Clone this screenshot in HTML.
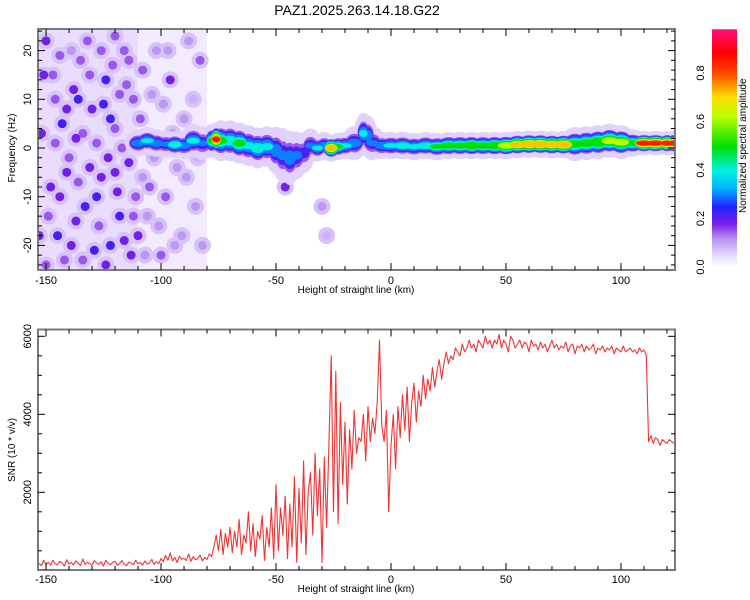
<!DOCTYPE html>
<html><head><meta charset="utf-8">
<style>
body{margin:0;background:#fff;}
svg{display:block;font-family:"Liberation Sans",sans-serif;}
</style></head>
<body>
<svg id="chart" width="750" height="600" viewBox="0 0 750 600">
<text x="357" y="15" font-size="14" text-anchor="middle">PAZ1.2025.263.14.18.G22</text>
<g id="topg"></g>
<g id="bot"></g>
<g id="cbar"></g>
</svg>
<script>
// ---------- data ----------
const snrStart = -153;
const snrStep = 1;
const snrValues = [
180,120,250,150,210,130,260,170,140,230,190,110,270,160,200,140,240,180,120,290,150,210,170,130,250,190,150,220,110,260,180,140,200,230,130,170,250,150,120,210,190,140,260,170,200,130,240,160,190,280,150,220,170,
300,220,380,260,450,240,330,200,360,280,310,250,420,230,350,270,300,390,240,330,280,420,
350,600,900,500,1050,400,950,600,
1100,450,1000,600,1300,400,900,700,1500,500,1200,350,1000,800,1400,250,1100,600,1600,300,
2200,500,1600,900,1900,300,1700,600,2400,200,2100,700,2800,400,2000,
2500,900,3000,1400,2600,200,2900,1100,3200,5500,
1500,5100,1200,4300,2200,3800,1700,3600,2600,4100,
3000,3400,3300,4000,2800,4200,3300,3900,3500,4300,
5900,3700,3300,4100,1500,3200,4000,2600,4200,3400,
4500,3600,4700,3300,4300,4800,3800,4600,4200,5000,
4400,4900,4600,5200,4700,5100,5400,4900,5300,5600,
5300,5500,5400,5700,5600,5500,5800,5600,5700,5900,
5700,5800,5600,5900,5800,5700,6000,5800,5900,5700,
5900,5800,6050,5700,5900,5800,5600,6000,5900,5700,
5800,5900,5700,5850,5800,5600,5900,5750,5800,5650,
5850,5700,5800,5600,5750,5900,5700,5800,5650,5750,
5700,5850,5600,5750,5800,5550,5750,5700,5800,5600,
5750,5650,5700,5800,5550,5700,5650,5750,5600,5700,
5650,5750,5550,5700,5650,5600,5750,5600,5650,5700,
5600,5650,5550,5700,5600,5650,5500,
3300,3450,3250,3400,3350,3200,3350,3300,3250,3350,3300,3250];

const ridgeX = [-110,-106,-102,-98,-94,-90,-86,-82,-78,-76,-74,-70,-66,-62,-58,-54,-50,-47,-44,-41,-38,-35,-32,-29,-26,-23,-20,-16,-12,-10,-8,-4,0,5,10,15,20,25,30,35,40,45,50,55,60,65,70,75,80,85,90,95,100,105,110,115,120,123];
const ridgeF = [1,1.5,1,0.8,0.7,0.5,1.5,1,1.5,1.8,1.5,1.5,1,0.5,0,0.3,-0.5,-1.5,-2,-1.5,-1,0.5,0,0.5,0,0.3,0.5,1,3,2.5,1,0.5,0.5,0.5,0.3,0.5,0.3,0.5,0.5,0.5,0.5,0.5,0.5,0.7,0.8,0.8,0.7,0.7,0.8,1,1.2,1.5,1.2,1,1,1,1,1];
const ridgeA = [0.35,0.4,0.35,0.3,0.45,0.35,0.4,0.3,0.5,0.85,0.5,0.45,0.5,0.4,0.45,0.4,0.35,0.3,0.35,0.3,0.25,0.3,0.4,0.35,0.8,0.5,0.4,0.35,0.4,0.35,0.3,0.35,0.4,0.45,0.4,0.45,0.5,0.55,0.55,0.6,0.55,0.6,0.7,0.75,0.8,0.8,0.75,0.8,0.55,0.55,0.6,0.65,0.65,0.55,0.9,0.9,0.9,0.9];
const ridgeW = [2,2,2,2,2,2,2.5,2.5,2.5,2.5,3,3,3,3,3,3,3.5,4,4,3.5,3,2.5,2,2,2,2,2,2.5,3,3,2.5,2,2,2,2,2,2,2,2,2,2,2,2,2,2,2,2,2,2.5,2.5,2.5,2.5,2.5,2,1.8,1.8,1.8,1.8];

const blobX = [-150,-147,-143,-140,-138,-135,-133,-130,-128,-126,-124,-122,-120,-118,-116,-114,-112,-110,-108,-105,-100,-96,-93,-90,-85,-83,-148,-145,-142,-137,-132,-129,-125,-121,-119,-117,-113,-109,-106,-102,-98,-95,-150,-152,-146,-141,-139,-134,-127,-123,-115,-111,-107,-103,-99,-91,-88,-82,-45,-42,-30,-28,-46,
-151,-149,-144,-144,-141,-136,-136,-131,-131,-128,-126,-124,-122,-120,-118,-116,-114,-112,-110,-108,-104,-101,-97,-94,-89,-86,-84,-153,-139,-134,-120,-137,-146];
const blobF = [22,15,5,-2,12,18,-12,8,1,-6,14,-20,4,-14,20,-3,10,-18,16,-8,-22,14,-4,6,-12,18,-8,-18,-23,-15,22,-21,9,17,-9,0,-22,6,-14,20,-10,3,-24,3,10,-5,20,3,-16,-2,13,-10,-22,-2,9,-18,22,-20,-6,-4,-12,-18,-8,
15,-14,-10,19,8,-7,10,-4,15,-10,20,-24,6,-5,11,-19,18,-14,0,-6,11,-16,20,-20,-6,10,-2,-18,-20,-23,23,2,1];
const blobA = [0.25,0.2,0.3,0.2,0.25,0.2,0.3,0.25,0.2,0.25,0.3,0.3,0.2,0.3,0.2,0.25,0.2,0.25,0.2,0.2,0.2,0.25,0.15,0.15,0.15,0.2,0.25,0.3,0.2,0.25,0.2,0.3,0.3,0.2,0.25,0.2,0.25,0.2,0.15,0.15,0.2,0.15,0.2,0.25,0.2,0.25,0.15,0.2,0.2,0.25,0.2,0.2,0.15,0.15,0.15,0.15,0.15,0.15,0.3,0.25,0.15,0.12,0.25,
0.25,0.2,0.25,0.2,0.25,0.2,0.3,0.25,0.2,0.3,0.2,0.25,0.3,0.25,0.2,0.25,0.2,0.2,0.2,0.15,0.15,0.15,0.15,0.15,0.15,0.12,0.12,0.25,0.25,0.2,0.2,0.25,0.2];

const xTicks = [-150,-100,-50,0,50,100];
const fTicks = [-20,-10,0,10,20];
const snrTicks = [2000,4000,6000];
const cbTicks = [0.0,0.2,0.4,0.6,0.8];

// ---------- geometry ----------
const NS='http://www.w3.org/2000/svg';
const L=38,R=675;
const xMin=-153.5,xMax=123.5;
const X=v=>L+(v-xMin)/(xMax-xMin)*(R-L);
const T0=29,T1=270;
const F=v=>148-v*4.87;
const B0=329.5,B1=570;
const Y=v=>570.3-v*0.039;

function mk(tag,attrs,parent){const e=document.createElementNS(NS,tag);for(const k in attrs)e.setAttribute(k,attrs[k]);parent.appendChild(e);return e;}

const stops=[[0,'#ffffff'],[0.05,'#e8dcff'],[0.12,'#b890f2'],[0.18,'#7a20e8'],[0.25,'#2222ff'],[0.33,'#00b8ff'],[0.4,'#00f0e0'],[0.5,'#00e000'],[0.62,'#b8ff00'],[0.7,'#ffe000'],[0.8,'#ff4800'],[0.88,'#ff0000'],[1,'#ff1090']];
function hex(h){return [parseInt(h.slice(1,3),16),parseInt(h.slice(3,5),16),parseInt(h.slice(5,7),16)];}
function cmap(v){v=Math.max(0,Math.min(1,v));for(let i=1;i<stops.length;i++){if(v<=stops[i][0]){const a=stops[i-1],b=stops[i];const t=(v-a[0])/(b[0]-a[0]);const c1=hex(a[1]),c2=hex(b[1]);return 'rgb('+c1.map((c,j)=>Math.round(c+(c2[j]-c)*t)).join(',')+')';}}return stops[stops.length-1][1];}

// ---------- top panel ----------
const topPanel=document.getElementById('topg');
const defs=mk('defs',{},topPanel);
const cp=mk('clipPath',{id:'clipT'},defs);mk('rect',{x:L,y:T0,width:R-L,height:T1-T0},cp);
const heat=mk('g',{'clip-path':'url(#clipT)'},topPanel);


mk('rect',{x:X(-153.5),y:T0,width:X(-110)-X(-153.5),height:T1-T0,fill:'#e9dcfc'},heat);
mk('rect',{x:X(-110),y:T0,width:X(-80)-X(-110),height:T1-T0,fill:'#f2eafd'},heat);
for(let i=0;i<blobX.length;i++){
  const b=mk('circle',{cx:X(blobX[i]),cy:F(blobF[i]),r:8.5,fill:'#d8c2f8'},heat);
  
  
}
for(let i=0;i<blobX.length;i++){
  const b=mk('circle',{cx:X(blobX[i]),cy:F(blobF[i]),r:4.5,fill:cmap(blobA[i]*0.75)},heat);
  
  
}
const levels=[0.06,0.15,0.22,0.3,0.4,0.5,0.62,0.72,0.85];
levels.forEach(l=>{
  for(let i=0;i<ridgeX.length;i++){
    const a=ridgeA[i];if(a<l)continue;
    const frac=1-(l-0.06)/(a-0.06+0.0001)*0.75;
    const ry=Math.max(1.5,ridgeW[i]*4.87*frac*(l<0.1?1.4:1));
    const next=i<ridgeX.length-1?ridgeX[i+1]-ridgeX[i]:3;
    const rx=(next*2.3*0.75+3)*(0.55+0.45*frac)+(l<0.1?3:0);
    const e=mk('ellipse',{cx:X(ridgeX[i]),cy:F(ridgeF[i]),rx:rx,ry:ry,fill:cmap(l)},heat);
    
    
  }
});
function axesFrame(g,y0,y1,name){
  const r=mk('rect',{x:L,y:y0,width:R-L,height:y1-y0,fill:'none',stroke:'#7a7a7a','stroke-width':2},g);
  
  
}
function xAxis(g,y0,y1,labelY,titleY,prefix){
  for(let v=-150;v<=120;v+=10){
    const maj=v%50===0;const len=maj?7:4;
    mk('line',{x1:X(v),x2:X(v),y1:y1,y2:y1-len,stroke:'#000'},g);
    mk('line',{x1:X(v),x2:X(v),y1:y0,y2:y0+len,stroke:'#000'},g);
  }
  xTicks.forEach(v=>{const t=mk('text',{x:X(v),y:labelY,'font-size':11,'text-anchor':'middle'},g);t.textContent=v;
    
    });
  const tt=mk('text',{x:356,y:titleY,'font-size':10,'text-anchor':'middle'},g);tt.textContent='Height of straight line (km)';
  
  
}
axesFrame(topPanel,T0,T1,'spectrogram-frame');
xAxis(topPanel,T0,T1,284,293,'spectrogram');
for(let v=-24;v<=24;v+=2){const maj=v%10===0;const len=maj?7:4;
  mk('line',{x1:L,x2:L+len,y1:F(v),y2:F(v),stroke:'#000'},topPanel);
  mk('line',{x1:R,x2:R-len,y1:F(v),y2:F(v),stroke:'#000'},topPanel);}
fTicks.forEach(v=>{const t=mk('text',{x:0,y:0,'font-size':11,'text-anchor':'middle',transform:`translate(31,${F(v)}) rotate(-90)`},topPanel);t.textContent=v;
  
  });
{const t=mk('text',{x:0,y:0,'font-size':10,'text-anchor':'middle',transform:`translate(15,${F(0)}) rotate(-90)`},topPanel);t.textContent='Frequency (Hz)';
 
 }

// ---------- bottom panel ----------
const bot=document.getElementById('bot');
const cp2=mk('clipPath',{id:'clipB'},defs);mk('rect',{x:L,y:B0,width:R-L,height:B1-B0},cp2);
let d='';
snrValues.forEach((v,i)=>{d+=(i?'L':'M')+X(snrStart+i*snrStep).toFixed(1)+','+Y(v).toFixed(1);});
const snrLine=mk('path',{d:d,fill:'none',stroke:'#f03434','stroke-width':1.1,'stroke-linejoin':'round','clip-path':'url(#clipB)'},bot);


axesFrame(bot,B0,B1,'snr-frame');
xAxis(bot,B0,B1,583,592,'snr');
for(let v=500;v<=6000;v+=500){const maj=v%2000===0;const len=maj?7:4;
  mk('line',{x1:L,x2:L+len,y1:Y(v),y2:Y(v),stroke:'#000'},bot);
  mk('line',{x1:R,x2:R-len,y1:Y(v),y2:Y(v),stroke:'#000'},bot);}
snrTicks.forEach(v=>{const t=mk('text',{x:0,y:0,'font-size':11,'text-anchor':'middle',transform:`translate(31,${Y(v)}) rotate(-90)`},bot);t.textContent=v;
  
  });
{const t=mk('text',{x:0,y:0,'font-size':10,'text-anchor':'middle',transform:`translate(15,450) rotate(-90)`},bot);t.textContent='SNR (10 * v/v)';
 
 }

// ---------- colorbar ----------
const cb=document.getElementById('cbar');
const C0=29.3,C1=268,CX=712,CW=25;
const CY=v=>267-v*242.5;
const grad=mk('linearGradient',{id:'cg',x1:0,y1:1,x2:0,y2:0},defs);
stops.forEach(s=>{ if(s[0]<=0.98) mk('stop',{offset:(s[0]/0.98*100)+'%','stop-color':s[1]},grad);});
mk('stop',{offset:'100%','stop-color':cmap(0.98)},grad);
const cr=mk('rect',{x:CX,y:C0,width:CW,height:C1-C0,fill:'url(#cg)'},cb);


cbTicks.forEach(v=>{const t=mk('text',{x:0,y:0,'font-size':11,'text-anchor':'middle',transform:`translate(704,${CY(v)}) rotate(-90)`},cb);t.textContent=v.toFixed(1);
  
  });
{const t=mk('text',{x:0,y:0,'font-size':10,'text-anchor':'middle',transform:`translate(746,${CY(0.5)}) rotate(-90)`},cb);t.textContent='Normalized spectral amplitude';
 
 }
</script>
</body></html>
